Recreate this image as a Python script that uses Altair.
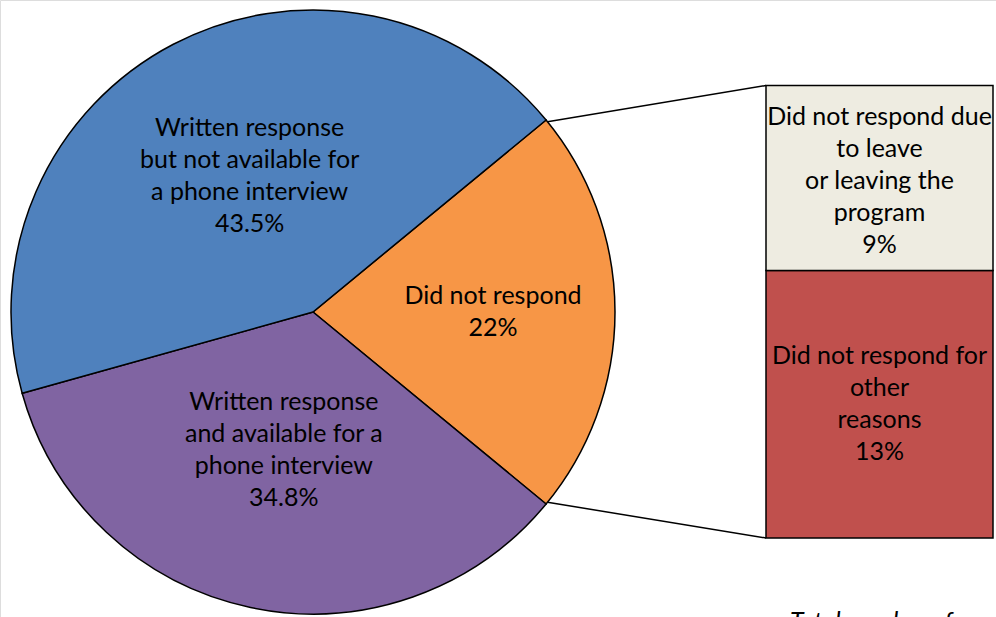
import math
import altair as alt
import pandas as pd

# ---- data ----
pie_labels = [
    "Did not respond\n22%",
    "Written response\nand available for a\nphone interview\n34.8%",
    "Written response\nbut not available for\na phone interview\n43.5%",
]
pie_keys = ["Did not respond", "Written and available", "Written not available"]
pie_values = [22.0, 34.8, 43.5]
pie_colors = ["#F79646", "#8064A2", "#4F81BD"]

bar_keys = ["Other reasons", "Leave"]
bar_labels = [
    "Did not respond for\nother\nreasons\n13%",
    "Did not respond due\nto leave\nor leaving the\nprogram\n9%",
]
bar_values = [13.0, 9.0]
bar_colors = ["#C0504D", "#EEECE1"]

footnote = "Total number of"

total = sum(pie_values)
start = math.pi / 2 - math.pi * pie_values[0] / total

pie_df = pd.DataFrame({"key": pie_keys, "label": pie_labels,
                       "value": pie_values, "idx": list(range(len(pie_keys)))})
bar_df = pd.DataFrame({"key": bar_keys, "label": bar_labels,
                       "value": bar_values, "idx": list(range(len(bar_keys)))})

FONT = "Lato"
FS = 25
LH = 32
CX, CY, R = 313, 312, 302

theta_scale = alt.Scale(domain=[0, total], range=[start, start + 2 * math.pi])
color_scale = alt.Scale(domain=pie_keys + bar_keys, range=pie_colors + bar_colors)
y_scale = alt.Scale(domain=[0, sum(bar_values)], range=[538, 85.5])

base_pie = alt.Chart(pie_df)

arcs = base_pie.mark_arc(outerRadius=R, stroke="black", strokeWidth=1.5).encode(
    x=alt.value(CX), y=alt.value(CY),
    theta=alt.Theta("value:Q", stack=True, scale=theta_scale),
    color=alt.Color("key:N", scale=color_scale, legend=None),
    order=alt.Order("idx:Q"),
)


def nlines(s):
    return s.count("\n") + 1


pie_place = {pie_keys[0]: (180, 0, 0), pie_keys[1]: (141, 0, 0), pie_keys[2]: (150, 6, -3)}
pie_text_layers = []
for k, lab in zip(pie_keys, pie_labels):
    r, ddx, ddy = pie_place[k]
    t = base_pie.transform_window(
        cum="sum(value)", sort=[alt.SortField("idx")]
    ).transform_calculate(
        mid="datum.cum - datum.value / 2"
    ).transform_filter(
        alt.datum.key == k
    ).mark_text(
        radius=r, font=FONT, fontSize=FS, lineBreak="\n", lineHeight=LH,
        align="center", baseline="middle", color="black",
        dx=ddx, dy=ddy - (nlines(lab) - 1) * LH / 2,
    ).encode(
        x=alt.value(CX), y=alt.value(CY),
        theta=alt.Theta("mid:Q", stack=None, scale=theta_scale),
        text="label:N",
    )
    pie_text_layers.append(t)

base_bar = alt.Chart(bar_df).transform_window(
    cum="sum(value)", sort=[alt.SortField("idx")]
).transform_calculate(
    lo="datum.cum - datum.value",
    mid="datum.cum - datum.value / 2",
)

bars = base_bar.mark_bar(stroke="black", strokeWidth=1.5).encode(
    x=alt.value(766), x2=alt.value(993),
    y=alt.Y("lo:Q", scale=y_scale, axis=None),
    y2=alt.Y2("cum:Q"),
    color=alt.Color("key:N", scale=color_scale, legend=None),
)

bar_shift = {bar_keys[0]: 0, bar_keys[1]: 3}
bar_text_layers = []
for k, lab in zip(bar_keys, bar_labels):
    t = base_bar.transform_filter(alt.datum.key == k).mark_text(
        font=FONT, fontSize=FS, lineBreak="\n", lineHeight=LH,
        align="center", baseline="middle", color="black",
        dy=bar_shift[k] - (nlines(lab) - 1) * LH / 2,
    ).encode(
        x=alt.value(879.5),
        y=alt.Y("mid:Q", scale=y_scale, axis=None),
        text="label:N",
    )
    bar_text_layers.append(t)

conn_df = pd.DataFrame({"a": [0]})
conn1 = alt.Chart(conn_df).mark_rule(color="black", strokeWidth=1.5).encode(
    x=alt.value(546), y=alt.value(122), x2=alt.value(766), y2=alt.value(85.5))
conn2 = alt.Chart(conn_df).mark_rule(color="black", strokeWidth=1.5).encode(
    x=alt.value(546), y=alt.value(502), x2=alt.value(766), y2=alt.value(538))

foot = alt.Chart(pd.DataFrame({"t": [footnote]})).mark_text(
    font=FONT, fontSize=FS, fontStyle="italic", align="left",
    baseline="alphabetic", color="black"
).encode(x=alt.value(790), y=alt.value(630), text="t:N")

chart = alt.layer(
    conn1, conn2, arcs, *pie_text_layers, bars, *bar_text_layers, foot
).properties(
    width=996, height=617, padding=0,
    autosize=alt.AutoSizeParams(type="none"),
).configure_view(stroke=None).configure(background="white")

chart.save("out.html", embed_options={"renderer": "svg", "actions": False})
